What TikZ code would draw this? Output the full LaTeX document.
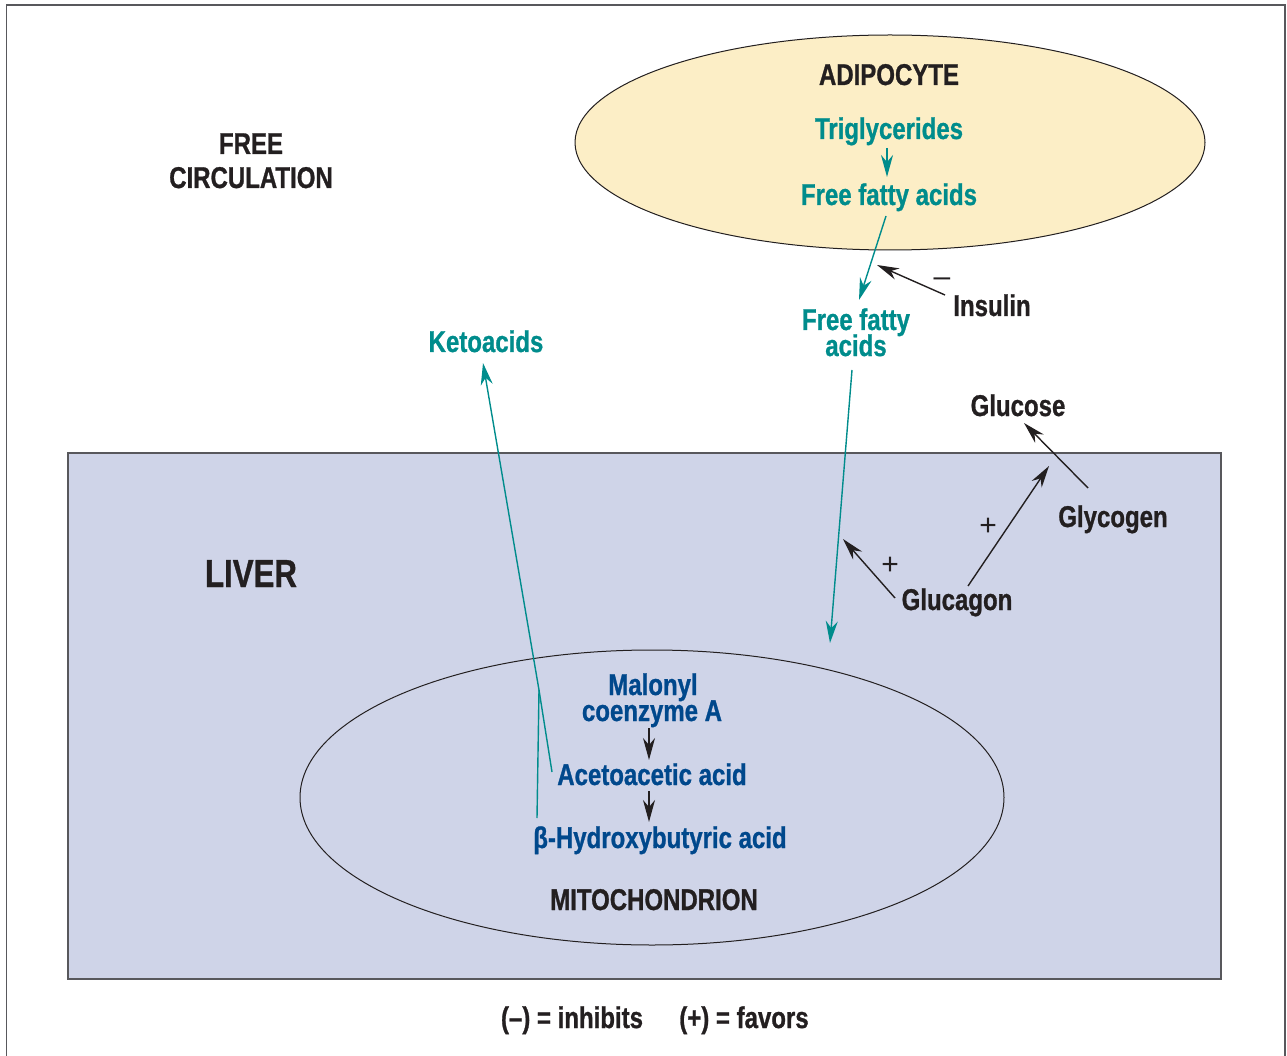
\documentclass[tikz,border=0pt]{standalone}
\usepackage{fontspec}
\setmainfont[FakeStretch=0.8, BoldFeatures={FakeBold=0.9}]{Liberation Sans}
\newfontfamily\plainfont{Liberation Sans}
\usetikzlibrary{arrows.meta}
\definecolor{tealc}{RGB}{0,140,140}
\definecolor{bluec}{RGB}{0,72,140}
\definecolor{inkc}{RGB}{35,31,32}
\definecolor{liverc}{RGB}{207,212,232}
\definecolor{adipoc}{RGB}{252,238,198}
\definecolor{framec}{RGB}{88,88,92}
\begin{document}
\begin{tikzpicture}[x=1pt,y=-1pt,
  lbl/.style={inner sep=0pt, anchor=base, font=\fontsize{30}{30}\selectfont\bfseries},
  big/.style={inner sep=0pt, anchor=base, font=\fontsize{39}{39}\selectfont\bfseries},
  sign/.style={inner sep=0pt, anchor=center, text=inkc, font=\plainfont\fontsize{30}{30}\selectfont},
  tealtxt/.style={lbl, text=tealc},
  bluetxt/.style={lbl, text=bluec},
  blacktxt/.style={lbl, text=inkc},
  upper/.style={text depth=0pt},
  tealarr/.style={draw=tealc, line width=1.4pt, -{Stealth[length=22pt,width=12pt,inset=7pt]}, tealc},
  blackarr/.style={draw=inkc, line width=1.4pt, -{Stealth[length=22pt,width=12pt,inset=7pt]}, inkc},
  tealline/.style={draw=tealc, line width=1.4pt}]
\useasboundingbox (0,0) rectangle (1287,1056);
% outer frame
\draw[framec, line width=1.8pt] (6.5,1070) -- (6.5,5) -- (1285,5) -- (1285,1070);
% liver
\draw[fill=liverc, draw=framec, line width=2.2pt] (68,453) rectangle (1221,979);
% adipocyte
\draw[fill=adipoc, draw=inkc, line width=1pt] (890,142.5) ellipse [x radius=315, y radius=107.5];
% mitochondrion
\draw[draw=inkc, line width=1pt] (652,797.5) ellipse [x radius=352, y radius=147.5];

% texts
\node[blacktxt] (adipo) at (889,85) {ADIPOCYTE};
\node[tealtxt] (trig) at (889,139) {Triglycerides};
\node[tealtxt] (ffa1) at (889,205) {Free fatty acids};
\node[blacktxt] (free) at (251,154) {FREE};
\node[blacktxt] (circ) at (251,188) {CIRCULATION};
\node[tealtxt, upper] (ffa2a) at (856,330) {Free fatty};
\node[tealtxt] (ffa2b) at (856,356) {acids};
\node[blacktxt] (insulin) at (992,316) {Insulin};
\node[sign] (minus) at (942,282) {–};
\node[tealtxt] (keto) at (486,352) {Ketoacids};
\node[blacktxt] (glucose) at (1018,416) {Glucose};
\node[blacktxt] (glycogen) at (1113,527) {Glycogen};
\node[blacktxt] (glucagon) at (957,610) {Glucagon};
\node[sign] (plusA) at (988,527) {+};
\node[sign] (plusB) at (890,566) {+};
\node[big, text=inkc] (liver) at (251,587) {LIVER};
\node[bluetxt, upper] (malonyl) at (653,695) {Malonyl};
\node[bluetxt] (coa) at (652,721) {coenzyme A};
\node[bluetxt] (aceto) at (652,785) {Acetoacetic acid};
\node[bluetxt] (hydroxy) at (660,848) {β-Hydroxybutyric acid};
\node[blacktxt] (mito) at (654,910) {MITOCHONDRION};
\node[blacktxt] (leg1) at (572,1028) {(–) = inhibits};
\node[blacktxt] (leg2) at (744,1028) {(+) = favors};

% connector end points
\coordinate (t1) at (887,148);
\coordinate (t2) at (887,177);
\coordinate (f1) at (886,216);
\coordinate (f2) at (859,300);
\coordinate (i1) at (945,295);
\coordinate (i2) at (877,265);
\coordinate (c1) at (852,370);
\coordinate (c2) at (830,643);
\coordinate (kb) at (537,818);
\coordinate (ka) at (552,772);
\coordinate (kj) at (539,690);
\coordinate (kt) at (483,363);
\coordinate (g1) at (895,598);
\coordinate (g2) at (843,539);
\coordinate (h1) at (968,586);
\coordinate (h2) at (1049,466);
\coordinate (y1) at (1088,488);
\coordinate (y2) at (1024,423);
\coordinate (m1) at (649,728);
\coordinate (m2) at (649,760);
\coordinate (n1) at (649,791);
\coordinate (n2) at (649,822);

% connectors
\draw[tealarr] (t1) -- (t2);
\draw[tealarr] (f1) -- (f2);
\draw[blackarr] (i1) -- (i2);
\draw[tealarr] (c1) -- (c2);
\draw[tealline] (kb) -- (kj);
\draw[tealline] (ka) -- (kj);
\draw[tealarr] (kj) -- (kt);
\draw[blackarr] (g1) -- (g2);
\draw[blackarr] (h1) -- (h2);
\draw[blackarr] (y1) -- (y2);
\draw[blackarr] (m1) -- (m2);
\draw[blackarr] (n1) -- (n2);
\end{tikzpicture}
\end{document}
